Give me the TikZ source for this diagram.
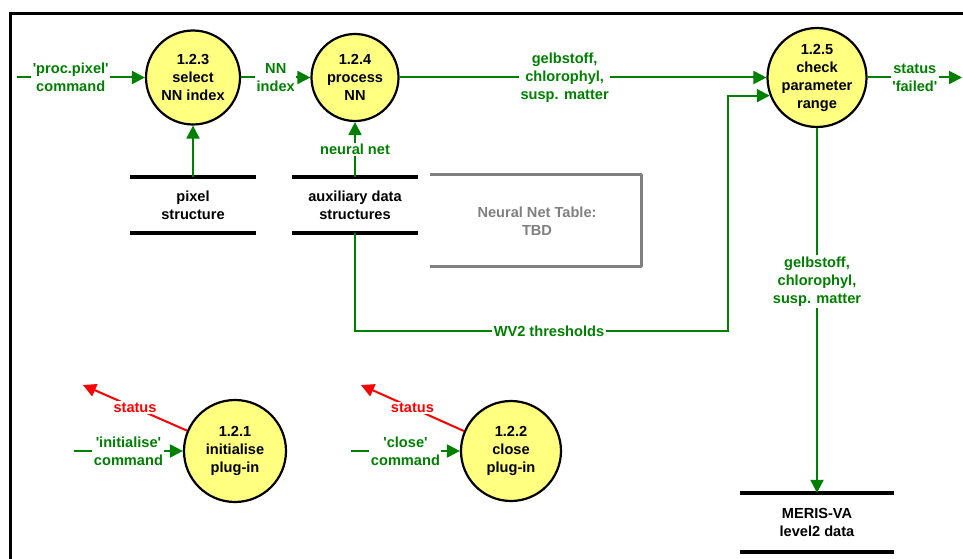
\documentclass[tikz,border=0pt]{standalone}
\usepackage{fontspec}
\setmainfont{Liberation Sans}[Ligatures=TeXOff]
\usetikzlibrary{arrows.meta}
\definecolor{dfdgreen}{RGB}{0,128,0}
\definecolor{dfdyellow}{RGB}{255,255,128}
\definecolor{dfdgray}{RGB}{128,128,128}
\begin{document}
\begin{tikzpicture}[x=1pt,y=-1pt,
  every node/.style={font=\fontsize{14.6}{18}\selectfont\bfseries},
  proc/.style={circle,draw=black,line width=2.2pt,fill=dfdyellow,align=center,inner sep=0pt},
  flow/.style={draw=dfdgreen,line width=2pt,-{Triangle[length=13pt,width=13pt]}},
  redflow/.style={draw=red,line width=2pt,-{Triangle[length=13pt,width=13pt]}},
  lbl/.style={text=dfdgreen,fill=white,align=center,inner sep=1.5pt},
  redlbl/.style={text=red,fill=white,inner sep=1.5pt},
  store/.style={align=center,minimum height=56pt,inner sep=0pt},
  bar/.style={line width=3.5pt,draw=black}]
\useasboundingbox (0,0) rectangle (963,559);
% frame
\draw[line width=3pt] (10,559) -- (10,14) -- (963,14);
% processes
\node[proc,minimum size=94pt] (c123) at (193,77.5) {1.2.3\\select\\NN index};
\node[proc,minimum size=87pt] (c124) at (355,77.5) {1.2.4\\process\\NN};
\node[proc,minimum size=99pt] (c125) at (817,77.5) {1.2.5\\check\\parameter\\range};
\node[proc,minimum size=102pt] (c121) at (235,451) {1.2.1\\initialise\\plug-in};
\node[proc,minimum size=100pt] (c122) at (511,451) {1.2.2\\close\\plug-in};
% stores
\node[store,minimum width=126pt] (pix) at (193,205) {pixel\\structure};
\draw[bar] (pix.north west) -- (pix.north east);
\draw[bar] (pix.south west) -- (pix.south east);
\node[store,minimum width=126pt] (aux) at (355,205) {auxiliary data\\structures};
\draw[bar] (aux.north west) -- (aux.north east);
\draw[bar] (aux.south west) -- (aux.south east);
\node[store,minimum width=153pt,minimum height=59pt] (meris) at (817,522.5) {MERIS-VA\\level2 data};
\draw[bar] (meris.north west) -- (meris.north east);
\draw[bar] (meris.south west) -- (meris.south east);
% gray table box
\draw[dfdgray,line width=3pt,line join=round] (430,174) -- (641,174) -- (641,266) -- (430,266);
\node[text=dfdgray,align=center] (nnt) at (537,221) {Neural Net Table:\\TBD};
% free ends
\coordinate (inpix) at (17,77.5);
\coordinate (outfail) at (962,77.5);
\coordinate (fbc) at (728,331);
\coordinate (ini) at (74,451);
\coordinate (clo) at (351,451);
\coordinate (st1) at (83,385);
\coordinate (st2) at (361,385);
% flows
\draw[flow] (inpix) -- node[lbl,pos=0.42]{'proc.pixel'\\command} (c123);
\draw[flow] (c123) -- node[lbl]{NN\\index} (c124);
\draw[flow] (c124) -- node[lbl,pos=0.45]{gelbstoff,\\chlorophyl,\\susp. matter} (c125);
\draw[flow] (c125) -- node[lbl]{status\\'failed'} (outfail);
\draw[flow] (pix.north) -- (c123);
\draw[flow] (aux.north) -- node[lbl]{neural net} (c124);
\draw[flow] (aux.south) |- node[lbl,pos=0.76]{WV2 thresholds} (fbc) |- (c125.201.5);
\draw[flow] (c125) -- node[lbl,pos=0.42]{gelbstoff,\\chlorophyl,\\susp. matter} (meris.north);
\draw[flow] (ini) -- node[lbl]{'initialise'\\command} (c121);
\draw[flow] (clo) -- node[lbl]{'close'\\command} (c122);
\draw[redflow] (c121.157) -- node[redlbl]{status} (st1);
\draw[redflow] (c122.157) -- node[redlbl]{status} (st2);
\end{tikzpicture}
\end{document}
